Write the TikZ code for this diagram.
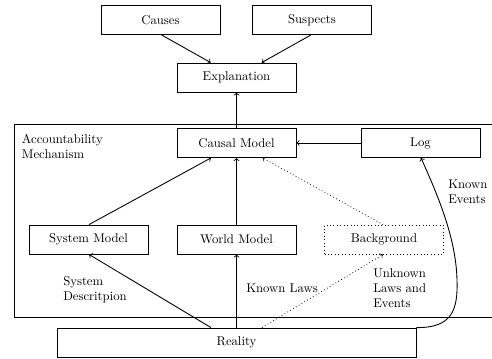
\documentclass[tikz,border=0pt]{standalone}
\begin{document}
\begin{tikzpicture}[x=0.7874pt,y=-0.7874pt,
  box/.style={draw,line width=0.7pt,minimum width=93.7pt,minimum height=22.8pt,inner sep=0pt},
  dbox/.style={box,dotted},
  lbl/.style={inner sep=0pt,align=left,anchor=west},
  arr/.style={->,line width=0.7pt},
  darr/.style={->,line width=0.6pt,dotted}]
\clip (0,0) rectangle (492,358);
\draw[line width=0.7pt] (14,124) rectangle (500,317);
\node[box] (causes) at (160.5,20) {Causes};
\node[box] (suspects) at (312,20) {Suspects};
\node[box] (expl) at (236.5,77.5) {Explanation};
\node[box] (causal) at (236.5,143) {Causal Model};
\node[box] (log) at (420.5,143) {Log};
\node[box] (sys) at (88.5,239.5) {System Model};
\node[box] (world) at (236.5,239.5) {World Model};
\node[dbox] (bg) at (384,239.5) {Background};
\node[box,minimum width=282.7pt] (real) at (236.5,342.5) {Reality};
\node[lbl] (acc) at (21.7,146.5) {Accountability\\Mechanism};
\node[lbl] (sd) at (63,289.5) {System\\Descritpion};
\node[lbl] (kl) at (246,288) {Known Laws};
\node[lbl] (ul) at (373,288) {Unknown\\Laws and\\Events};
\node[lbl] (ke) at (448,192) {Known\\Events};
\coordinate (cs) at (161.5,34.6);
\coordinate (ss) at (311,34.6);
\draw[arr] (causes.south -| cs) -- (210.7,63 |- expl.north);
\draw[arr] (suspects.south -| ss) -- (261.7,63 |- expl.north);
\draw[arr] (causal) -- (expl);
\draw[arr] (log) -- (causal);
\draw[arr] (89,225 |- sys.north) -- (211,157 |- causal.south);
\draw[arr] (world) -- (causal);
\draw[darr] (383,225 |- bg.north) -- (262.7,157 |- causal.south);
\draw[arr] (211,328 |- real.north) -- (89,254 |- sys.south);
\draw[arr] (real.north -| world) -- (world.south);
\draw[darr] (262,328 |- real.north) -- (383,254 |- bg.south);
\draw[arr] (real.north east) .. controls (452,328) and (458,310) .. (457,280) .. controls (456,240) and (440,200) .. (421,157 |- log.south);
\end{tikzpicture}
\end{document}
